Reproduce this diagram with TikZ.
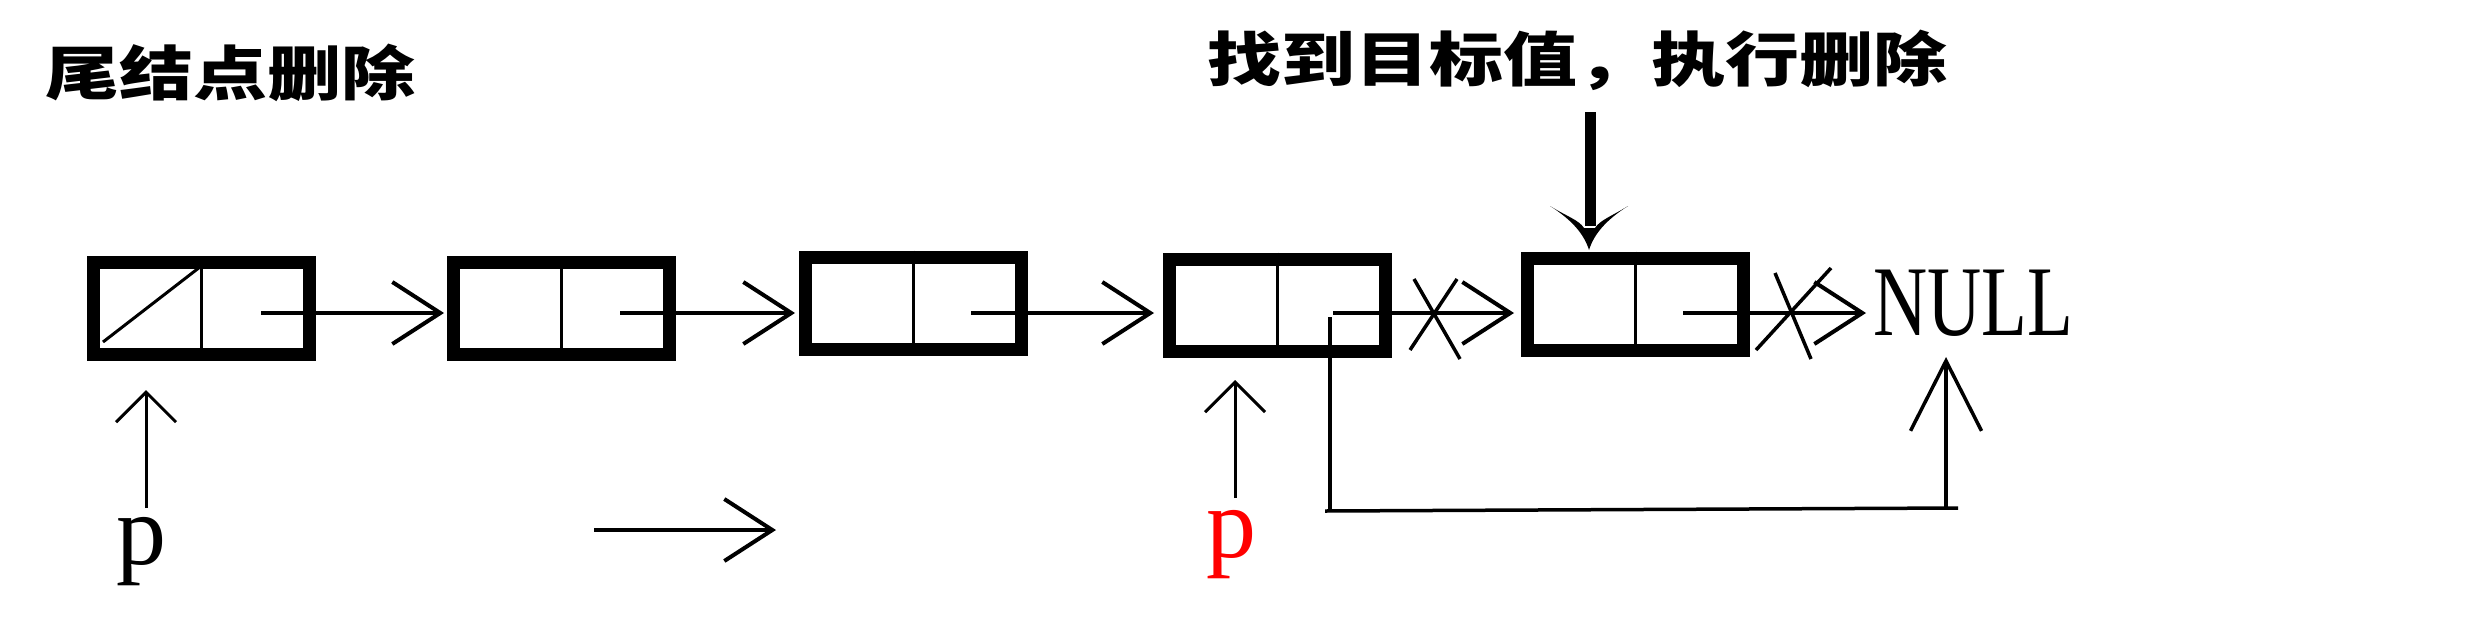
\documentclass[tikz,border=0pt]{standalone}
\usepackage{fontspec}
\usepackage{graphicx}
\setmainfont{Liberation Serif}
\newfontfamily\cjk{Noto Sans CJK SC}
\usetikzlibrary{arrows.meta}
\begin{document}
\begin{tikzpicture}[x=1pt,y=-1pt,
  cell/.style={draw,line width=13pt,minimum width=216pt,minimum height=92pt,inner sep=0pt},
  divider/.style={line width=3pt},
  link/.style={line width=4pt,-{Straight Barb[length=48pt,width=62pt]}},
  pointer/.style={line width=3pt,-{Straight Barb[length=30pt,width=60pt]}},
  bypass/.style={line width=3.5pt},
  crossline/.style={line width=3.5pt},
  title/.style={font=\cjk\bfseries\fontsize{74}{80}\selectfont,inner sep=0pt},
  serif/.style={inner sep=0pt,anchor=base}]
\useasboundingbox (0,0) rectangle (2480,635);

% titles
\node[title] (t1) at (230,73) {\scalebox{1}[0.8]{尾结点删除}};
\node[title] (t2) at (1577,60) {\scalebox{1}[0.8]{找到目标值，执行删除}};

% boxes
\node[cell] (b1) at (201.5,308.5) {};
\node[cell] (b2) at (561.5,308.5) {};
\node[cell] (b3) at (913.5,303) {};
\node[cell] (b4) at (1277.5,305) {};
\node[cell] (b5) at (1635,304) {};
\foreach \b in {b1,b2,b3,b4,b5} \draw[divider] (\b.north) -- (\b.south);
\draw[divider] (103,342) -- (200,267);

% links
\coordinate (s1) at (261,313);  \coordinate (e1) at (444,313);
\coordinate (s2) at (620,313);  \coordinate (e2) at (795,313);
\coordinate (s3) at (971,313);  \coordinate (e3) at (1154,313);
\coordinate (s4) at (1333,313); \coordinate (e4) at (1514,313);
\coordinate (s5) at (1683,313); \coordinate (e5) at (1866,313);
\draw[link] (s1) -- (e1);
\draw[link] (s2) -- (e2);
\draw[link] (s3) -- (e3);
\draw[link] (s4) -- (e4);
\draw[link] (s5) -- (e5);

% crosses
\draw[crossline] (1414,279) -- (1460,359);
\draw[crossline] (1410,350) -- (1457,279);
\draw[crossline] (1775,273) -- (1811,359);
\draw[crossline] (1756,350) -- (1831,268);

% NULL
\node[serif] (null) at (1973,335) {\scalebox{0.75}[1]{\fontsize{100}{100}\selectfont NULL}};

% thick down arrow
\coordinate (ta) at (1590,112);
\coordinate (tb) at (1590,226);
\draw[line width=11pt] (ta) -- (tb);
\fill (1550,206) .. controls (1572,220) and (1584,234) .. (1589,250)
  .. controls (1594,234) and (1606,220) .. (1628,206)
  .. controls (1612,216) and (1600,220) .. (1595,228) -- (1584,228)
  .. controls (1579,220) and (1566,216) .. (1550,206) -- cycle;

% p pointers
\node[serif] (p1) at (141,564) {\fontsize{100}{100}\selectfont p};
\draw[pointer] (146,508) -- (146,390);
\node[serif,text=red] (p2) at (1231,557) {\fontsize{100}{100}\selectfont p};
\draw[pointer] (1235,498) -- (1235,380);

% middle arrow
\coordinate (m1) at (594,530);
\coordinate (m2) at (776,530);
\draw[link] (m1) -- (m2);

% bypass
\coordinate (by1) at (1330,317);
\coordinate (by2) at (1330,511);
\draw[bypass] (by1) -- (by2);
\draw[bypass] (1325,511) -- (1958,508);
\draw[line width=3.5pt,-{Straight Barb[length=70pt,width=71pt]}] (1946,508) -- (1946,357);
\end{tikzpicture}
\end{document}
